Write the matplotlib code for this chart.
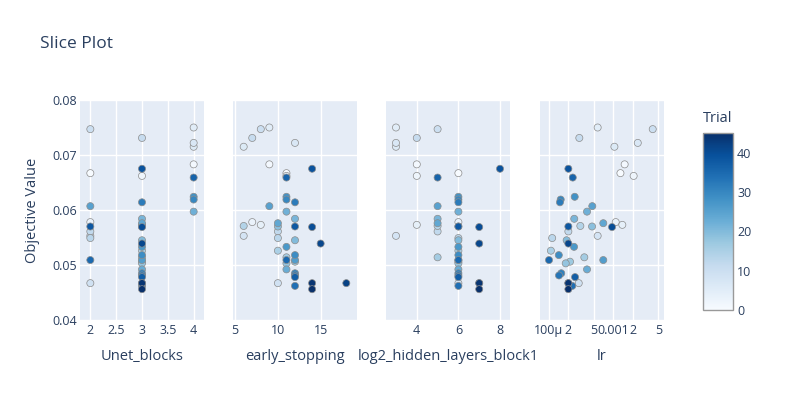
import matplotlib
matplotlib.use("Agg")
import matplotlib.pyplot as plt
import numpy as np

plt.rcParams['font.family'] = ['Open Sans', 'DejaVu Sans']

# datos (un elemento por trial)
trial = [0, 1, 2, 3, 4, 5, 6, 7, 8, 9,
         10, 11, 12, 13, 14, 15, 16, 17, 18, 19,
         20, 21, 22, 23, 24, 25, 26, 27, 28, 29,
         30, 31, 32, 33, 34, 35, 36, 37, 38, 39,
         40, 41, 42, 44, 45]
objective = [0.0667, 0.0683, 0.0662, 0.0578, 0.0573, 0.0750, 0.0715, 0.0722, 0.0553, 0.0467,
             0.0747, 0.0731, 0.0561, 0.0549, 0.0571, 0.0526, 0.0514, 0.0506, 0.0503, 0.0570,
             0.0545, 0.0584, 0.0597, 0.0492, 0.0576, 0.0607, 0.0509, 0.0533, 0.0624, 0.0518,
             0.0619, 0.0485, 0.0614, 0.0481, 0.0462, 0.0509, 0.0659, 0.0478, 0.0570, 0.0675,
             0.0569, 0.0539, 0.0467, 0.0467, 0.0456]
unet_blocks = [2, 4, 3, 2, 3, 4, 4, 4, 2, 2,
               2, 3, 2, 2, 3, 3, 3, 3, 3, 3,
               3, 3, 4, 3, 3, 2, 3, 3, 4, 3,
               4, 3, 3, 3, 3, 2, 4, 3, 2, 3,
               3, 3, 3, 3, 3]
early_stopping = [11, 9, 11, 7, 8, 9, 6, 12, 6, 10,
                  8, 7, 10, 10, 6, 10, 11, 12, 11, 10,
                  12, 12, 11, 11, 10, 9, 12, 11, 11, 12,
                  11, 12, 12, 12, 12, 11, 11, 12, 12, 14,
                  14, 15, 18, 14, 14]
log2_hidden = [6, 4, 4, 6, 4, 3, 3, 3, 3, 6,
               5, 4, 5, 6, 5, 6, 5, 6, 6, 6,
               6, 5, 6, 6, 5, 5, 6, 6, 6, 6,
               6, 6, 6, 6, 6, 6, 5, 6, 6, 8,
               7, 7, 7, 7, 7]
lr = [1.29e-3, 1.50e-3, 2.07e-3, 1.09e-3, 1.38e-3, 5.71e-4, 1.04e-3, 2.40e-3, 5.71e-4, 2.90e-4,
      4.10e-3, 2.96e-4, 2.0e-4, 1.12e-4, 3.07e-4, 1.07e-4, 3.54e-4, 2.12e-4, 1.82e-4, 4.67e-4,
      1.88e-4, 2.47e-4, 3.90e-4, 3.90e-4, 6.98e-4, 4.71e-4, 6.98e-4, 2.45e-4, 2.51e-4, 1.42e-4,
      1.52e-4, 1.55e-4, 1.48e-4, 1.43e-4, 2.3e-4, 1.0e-4, 2.34e-4, 2.54e-4, 2.0e-4, 2.0e-4,
      9.55e-4, 2.0e-4, 2.0e-4, 2.0e-4, 2.0e-4]

param_names = ['Unet_blocks', 'early_stopping', 'log2_hidden_layers_block1', 'lr']
param_values = [unet_blocks, early_stopping, log2_hidden, lr]

txt = '#2a3f5f'
bg = '#e5ecf6'

fig = plt.figure(figsize=(8, 4), dpi=100)

# posiciones de los paneles en pixeles (izquierda)
lefts = [80, 233, 386, 540]
ancho = 124
xlims = [(1.8, 4.2), (4.75, 19.25), (2.52, 8.48), (10 ** -4.14, 10 ** -2.212)]

sc = None
for i, nombre in enumerate(param_names):
    ax = fig.add_axes([lefts[i] / 800, 80 / 400, ancho / 800, 220 / 400])
    ax.set_facecolor(bg)
    for s in ax.spines.values():
        s.set_visible(False)
    ax.grid(True, color='white', linewidth=1)
    ax.set_axisbelow(True)
    sc = ax.scatter(param_values[i], objective, c=trial, cmap='Blues', vmin=0, vmax=45,
                    s=26, edgecolors='#8c8c8c', linewidths=0.5, zorder=3)
    ax.set_ylim(0.04, 0.08)
    ax.set_yticks([0.04, 0.05, 0.06, 0.07, 0.08])
    if nombre == 'lr':
        ax.set_xscale('log')
        ax.set_xticks([1e-4, 2e-4, 5e-4, 1e-3, 2e-3, 5e-3])
        ax.set_xticklabels(['100μ', '2', '5', '0.001', '2', '5'])
        ax.xaxis.set_minor_locator(matplotlib.ticker.NullLocator())
    elif i == 0:
        ax.set_xticks([2, 2.5, 3, 3.5, 4])
        ax.set_xticklabels(['2', '2.5', '3', '3.5', '4'])
    elif i == 1:
        ax.set_xticks([5, 10, 15])
    else:
        ax.set_xticks([4, 6, 8])
    ax.set_xlim(*xlims[i])
    ax.tick_params(length=0, labelsize=9, colors=txt, pad=3)
    if i == 0:
        ax.set_yticklabels(['0.04', '0.05', '0.06', '0.07', '0.08'])
        ax.tick_params(axis='y', pad=2)
    else:
        ax.tick_params(labelleft=False)
    ax.text(0.5, -0.168, nombre, transform=ax.transAxes, ha='center', va='center',
            fontsize=10.5, color=txt)

fig.text(33 / 800, 1 - 210 / 400, 'Objective Value', rotation=90, ha='center', va='center',
         fontsize=10.5, color=txt)
fig.text(40 / 800, 1 - 44 / 400, 'Slice Plot', ha='left', va='center', fontsize=12.5, color=txt)

# barra de color
cax = fig.add_axes([703 / 800, 1 - 310 / 400, 30 / 800, 177 / 400])
cb = fig.colorbar(sc, cax=cax)
cb.set_ticks([0, 10, 20, 30, 40])
cb.ax.tick_params(length=0, labelsize=9, colors=txt, pad=3)
cb.outline.set_edgecolor('#999999')
cb.outline.set_linewidth(1)
fig.text(703 / 800, 1 - 118 / 400, 'Trial', ha='left', va='center', fontsize=10.5, color=txt)

fig.savefig('out.png', dpi=100, facecolor='white')
